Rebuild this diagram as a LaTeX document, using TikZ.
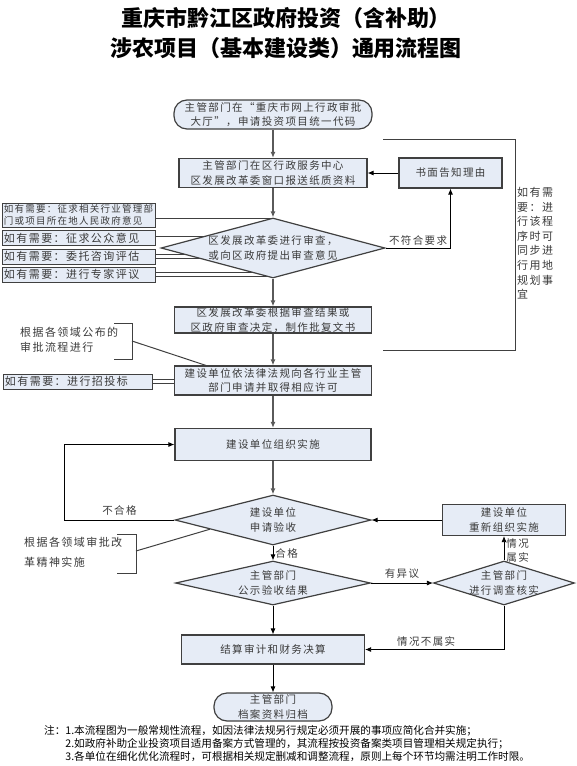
\documentclass[tikz,border=0pt]{standalone}
\usepackage{fontspec}
\setmainfont{Noto Sans CJK SC}
\newfontfamily\boxfont[LetterSpace=13]{Noto Sans CJK SC}
\usetikzlibrary{arrows.meta, positioning, shapes.geometric, backgrounds, calc}
\definecolor{flowfill}{HTML}{E6ECF6}
\definecolor{flowedge}{HTML}{404040}
\definecolor{flowgray}{HTML}{5A5A5A}
\definecolor{flowtext}{HTML}{3A3A3A}

\begin{document}
\begin{tikzpicture}[x=1pt, y=-1pt,
  box/.style={draw=flowedge, fill=flowfill, line width=1.2pt, inner sep=0pt, align=center,
    text=flowtext, font=\boxfont\fontsize{10.5}{14.5}\selectfont},
  term/.style={box, rounded corners=13pt},
  dec/.style={box, diamond},
  side/.style={box, line width=1pt, text width=149pt, inner xsep=2pt, align=left,
    font=\boxfont\fontsize{11}{13}\selectfont},
  tag/.style={text=flowtext, inner sep=0pt, align=left, font=\boxfont\fontsize{10.5}{15}\selectfont},
  flow/.style={draw=flowgray, line width=1.5pt, -{Latex[length=6pt,width=5pt]}},
  link/.style={draw=black, line width=0.8pt, -{Latex[length=6pt,width=5pt]}},
  pair/.style={draw=flowedge, line width=0.8pt, double=white, double distance=3pt},
  brace/.style={draw=flowedge, line width=1pt}]
  \useasboundingbox (0,0) rectangle (577,766);
  % title
  \node[align=center, font=\fontsize{22}{30}\selectfont\bfseries] (title) at (286,33)
    {重庆市黔江区政府投资（含补助）\\涉农项目（基本建设类）通用流程图};
  % main column
  \node[term, minimum width=198pt, minimum height=29pt] (start) at (273,114.5)
    {主管部门在“重庆市网上行政审批\\大厅”，申请投资项目统一代码};
  \node[box, minimum width=188pt, minimum height=29pt] (submit) at (273,173)
    {主管部门在区行政服务中心\\区发展改革委窗口报送纸质资料};
  \node[box, minimum width=103pt, minimum height=30pt] (notice) at (450.5,173) {书面告知理由};
  \node[dec, minimum width=224pt, minimum height=60pt] (review) at (273,248) {};
  \node[tag, align=center] (reviewtxt) at (review) {区发展改革委进行审查，\\或向区政府提出审查意见};
  \node[box, minimum width=197pt, minimum height=26pt] (reply) at (273,320)
    {区发展改革委根据审查结果或\\区政府审查决定，制作批复文书};
  \node[box, minimum width=197pt, minimum height=29pt] (permit) at (273,380.5)
    {建设单位依法律法规向各行业主管\\部门申请并取得相应许可};
  \node[box, minimum width=196pt, minimum height=32pt] (build) at (273,444.5) {建设单位组织实施};
  \node[dec, minimum width=196pt, minimum height=50pt] (accept) at (273,520) {};
  \node[tag, align=center] (accepttxt) at (accept) {建设单位\\申请验收};
  \node[box, minimum width=123pt, minimum height=31pt] (redo) at (504,520) {建设单位\\重新组织实施};
  \node[dec, minimum width=195pt, minimum height=44pt] (publish) at (273,583) {};
  \node[tag, align=center] (publishtxt) at (publish) {主管部门\\公示验收结果};
  \node[dec, minimum width=141pt, minimum height=44pt] (verify) at (504,583) {};
  \node[tag, align=center] (verifytxt) at (verify) {主管部门\\进行调查核实};
  \node[box, minimum width=183pt, minimum height=29pt] (settle) at (273,649.5) {结算审计和财务决算};
  \node[term, minimum width=118pt, minimum height=28pt] (archive) at (273,707) {主管部门\\档案资料归档};
  % optional steps on the left
  \node[side, minimum height=24pt, font=\boxfont\fontsize{9.5}{12}\selectfont] (need1) at (78.5,215)
    {如有需要：征求相关行业管理部\\门或项目所在地人民政府意见};
  \foreach \n/\y/\t in {2/238/征求公众意见, 3/256.5/委托咨询评估, 4/274.5/进行专家评议}
    \node[side, minimum height=15pt] (need\n) at (78.5,\y) {如有需要：\t};
  \node[side, text width=145pt, minimum height=15pt] (bid) at (77.5,381.5) {如有需要：进行招投标};
  % side notes
  \node[tag, anchor=west, font=\boxfont\fontsize{11}{15}\selectfont] (rule1) at (20,339.5)
    {根据各领域公布的\\审批流程进行};
  \draw[brace] (114,323) -- (132,323) -- (132,359) -- (114,359);
  \coordinate (tip1) at (132,341);
  \draw[brace] (tip1) -- ([xshift=32pt]permit.north west);
  \node[tag, anchor=west, font=\boxfont\fontsize{11}{20}\selectfont] (rule2) at (24,552)
    {根据各领域审批改\\革精神实施};
  \draw[brace] (117,534) -- (136,534) -- (136,573) -- (117,573);
  \coordinate (tip2) at (136,551);
  \draw[brace] (tip2) -- ($(accept.west)!0.36!(accept.south)$);
  \draw[brace] (383,139) -- (515,139) -- (515,350) -- (383,350);
  \node[tag, anchor=north west, font=\boxfont\fontsize{11}{14.6}\selectfont] (sync) at (517,187)
    {如有需\\要：进\\行该程\\序时可\\同步进\\行用地\\规划事\\宜};
  % connectors
  \draw[flow] (start) -- (submit);
  \draw[flow] (submit) -- (review);
  \draw[link] (notice) -- (submit);
  \draw[link] (review.east) -- node[tag, above=2pt] (nofit) {不符合要求} (review.east -| notice) -- (notice);
  \draw[flow] (review) -- (reply);
  \draw[flow] (reply) -- (permit);
  \draw[flow] (permit) -- (build);
  \draw[flow] (build) -- (accept);
  \draw[link] (accept.west) -- node[tag, above=4pt] (fail) {不合格} ++(-110,0) |- (build.west);
  \draw[link] (accept) -- node[tag, pos=0.55, right=2pt] (pass) {合格} (publish);
  \draw[link] (redo) -- (accept);
  \draw[link] (publish) -- node[tag, above=4pt] (doubt) {有异议} (verify);
  \draw[link] (verify) -- node[tag, pos=0.4, anchor=west, xshift=2pt, font=\boxfont\fontsize{10.5}{14}\selectfont] (true) {情况\\属实} (redo);
  \draw[link] (verify) |- node[tag, pos=0.78, above=3pt] (false) {情况不属实} (settle);
  \draw[link] (publish) -- (settle);
  \draw[link] (settle) -- (archive);
  \begin{scope}[on background layer]
    \draw[pair] (need1.east) ++(0,5) coordinate (n1) -- (n1 -| review);
    \foreach \n in {2,3,4}
      \draw[pair] (need\n.east) -- (need\n.east -| review);
    \draw[pair] (bid.east) -- (bid.east -| permit.west);
  \end{scope}
  % notes
  \node[anchor=north west, inner sep=0pt, align=left, font=\fontsize{10.6}{13}\selectfont] (notes) at (44,725)
    {注：1.本流程图为一般常规性流程，如因法律法规另行规定必须开展的事项应简化合并实施；\\
     \hspace*{2em}2.如政府补助企业投资项目适用备案方式管理的，其流程按投资备案类项目管理相关规定执行；\\
     \hspace*{2em}3.各单位在细化优化流程时，可根据相关规定删减和调整流程，原则上每个环节均需注明工作时限。};
\end{tikzpicture}
\end{document}
